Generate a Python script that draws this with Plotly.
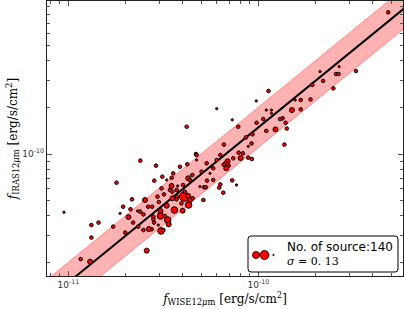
import numpy as np
import plotly.graph_objects as go

# WISE 12um flux (units of 1e-11 erg/s/cm2)
wise12 = [48.2, 32.6, 26.6, 25.6, 26.4, 21.9, 24.8, 19.2, 16.7, 18.8,
          11.3, 15.0, 16.7, 13.4, 11.7, 11.7, 9.74, 10.6, 9.78, 13.0,
          13.9, 14.1, 12.3, 11.0, 9.31, 8.59, 7.83, 7.28, 6.03, 4.19,
          13.7, 9.20, 8.84, 8.29, 7.87, 9.24, 8.06, 6.58, 6.30, 6.88,
          6.72, 6.97, 6.77, 6.56, 5.78, 7.28, 6.30, 6.22, 6.53, 4.69,
          4.73, 4.22, 5.36, 5.17, 5.29, 5.02, 4.49, 4.27, 4.01, 3.76,
          4.07, 4.27, 4.36, 4.29, 3.99, 3.72, 3.53, 3.71, 3.42, 3.49,
          3.52, 3.18, 3.09, 2.83, 3.12, 2.89, 2.39, 1.79, 3.05, 3.29,
          3.61, 3.33, 3.37, 3.05, 3.07, 3.16, 2.53, 2.76, 2.80, 2.74,
          2.65, 2.48, 2.33, 2.58, 2.82, 2.19, 2.07, 1.99, 2.16, 2.12,
          1.94, 1.72, 1.44, 1.32, 1.32, 1.16, 1.30, 0.947, 2.31, 3.49,
          2.63, 2.94, 2.99, 3.71, 4.51, 4.36, 2.38, 2.80, 3.86, 5.34,
          3.29, 3.93, 4.92, 5.78, 7.37, 8.84, 15.6, 6.03, 2.48, 1.87,
          4.73, 7.67, 3.56, 11.0, 21.1, 5.13, 5.56, 3.22, 2.97, 4.10]
# IRAS 12um flux (units of 1e-10 erg/s/cm2)
iras12 = [8.20, 3.43, 3.66, 3.28, 3.28, 2.96, 2.65, 2.79, 2.23, 2.25,
          2.55, 1.92, 1.94, 1.70, 1.92, 1.83, 2.20, 1.68, 1.59, 1.68,
          1.59, 1.46, 1.44, 1.41, 1.34, 1.28, 1.50, 1.66, 1.96, 1.50,
          1.15, 1.17, 0.947, 1.01, 1.02, 0.928, 0.942, 1.15, 0.985, 0.897,
          0.862, 0.841, 0.809, 0.853, 0.809, 0.676, 0.637, 0.607, 0.563, 1.00,
          0.985, 0.858, 0.673, 0.610, 0.610, 0.769, 0.732, 0.697, 0.631, 0.622,
          0.531, 0.536, 0.505, 0.469, 0.431, 0.531, 0.518, 0.586, 0.586, 0.622,
          0.571, 0.549, 0.600, 0.673, 0.714, 0.841, 0.906, 0.653, 0.429, 0.464,
          0.435, 0.375, 0.352, 0.398, 0.319, 0.323, 0.505, 0.457, 0.394, 0.327,
          0.328, 0.408, 0.340, 0.238, 0.361, 0.361, 0.392, 0.311, 0.510, 0.440,
          0.457, 0.340, 0.361, 0.348, 0.289, 0.210, 0.202, 0.421, 0.429, 0.703,
          0.457, 0.531, 0.490, 0.510, 0.518, 0.680, 0.425, 0.379, 0.828, 0.871,
          0.680, 0.480, 0.616, 0.680, 0.938, 1.12, 2.23, 0.915, 0.323, 0.414,
          0.915, 0.631, 0.750, 1.92, 3.40, 0.505, 0.750, 0.398, 0.348, 0.571]
# relative weight of each source (marker size class)
weight = [2, 2, 1, 2, 2, 2, 2, 2, 2, 2,
          2, 3, 2, 2, 1, 1, 1, 2, 2, 2,
          2, 2, 3, 2, 2, 2, 2, 1, 1, 2,
          2, 2, 2, 2, 2, 2, 3, 2, 2, 3,
          3, 2, 3, 2, 2, 2, 2, 2, 2, 2,
          2, 2, 2, 2, 2, 2, 2, 3, 2, 1,
          5, 3, 3, 4, 3, 2, 3, 2, 2, 3,
          2, 2, 2, 2, 2, 2, 2, 2, 3, 3,
          4, 4, 3, 4, 4, 2, 3, 2, 2, 2,
          3, 2, 2, 3, 2, 2, 3, 2, 2, 2,
          2, 2, 2, 2, 2, 2, 3, 1, 1, 2,
          2, 2, 2, 2, 2, 2, 2, 2, 2, 2,
          1, 2, 1, 2, 2, 1, 1, 2, 2, 1,
          1, 1, 2, 1, 1, 2, 1, 2, 1, 2]

fit_slope = 1.0
fit_intercept = 0.172   # dex
sigma = 0.13            # dex
n_source = len(wise12)

x_ticks = [1e-11, 1e-10]
x_ticklabels = ["10<sup>-11</sup>", "10<sup>-10</sup>"]
y_ticks = [1e-10]
y_ticklabels = ["10<sup>-10</sup>"]

x = np.array(wise12) * 1e-11
y = np.array(iras12) * 1e-10
size_map = {1: 2.3, 2: 3.6, 3: 5.0, 4: 6.6, 5: 9.5}
sizes = [size_map[w] for w in weight]

lx = np.linspace(-11.3, -9.0, 50)
ly = fit_slope * lx + fit_intercept

fig = go.Figure()
fig.add_trace(go.Scatter(x=10**lx, y=10**(ly + sigma), mode="lines",
                         line=dict(color="rgba(255,0,0,0.35)", width=1),
                         showlegend=False, hoverinfo="skip"))
fig.add_trace(go.Scatter(x=10**lx, y=10**(ly - sigma), mode="lines",
                         line=dict(color="rgba(255,0,0,0.35)", width=1),
                         fill="tonexty", fillcolor="rgba(255,0,0,0.3)",
                         showlegend=False, hoverinfo="skip"))
fig.add_trace(go.Scatter(x=10**lx, y=10**ly, mode="lines",
                         line=dict(color="black", width=2),
                         showlegend=False))
fig.add_trace(go.Scatter(x=x, y=y, mode="markers",
                         marker=dict(size=sizes, color="red", opacity=1,
                                     line=dict(color="black", width=1)),
                         showlegend=False))

# plot-area pixel geometry helpers for legend box
L, R, T, B = 47, 403, 1, 276
def px(v):
    return (v - L) / (R - L)
def py(v):
    return (B - v) / (B - T)

x0, x1, y0, y1, r = 248, 398, 236, 272, 3
path = (f"M {px(x0+r)},{py(y0)} L {px(x1-r)},{py(y0)} Q {px(x1)},{py(y0)} {px(x1)},{py(y0+r)} "
        f"L {px(x1)},{py(y1-r)} Q {px(x1)},{py(y1)} {px(x1-r)},{py(y1)} "
        f"L {px(x0+r)},{py(y1)} Q {px(x0)},{py(y1)} {px(x0)},{py(y1-r)} "
        f"L {px(x0)},{py(y0+r)} Q {px(x0)},{py(y0)} {px(x0+r)},{py(y0)} Z")
shapes = [dict(type="path", xref="paper", yref="paper", path=path,
               line=dict(color="black", width=1), fillcolor="white")]
for cx, d in [(256, 7), (264.5, 9), (273.5, 1.5)]:
    shapes.append(dict(type="circle", xref="paper", yref="paper",
                       xsizemode="pixel", ysizemode="pixel",
                       xanchor=px(cx), yanchor=py(255),
                       x0=-d/2, x1=d/2, y0=-d/2, y1=d/2,
                       fillcolor="red", line=dict(color="black", width=0.8)))

annotations = [
    dict(xref="paper", yref="paper", x=px(285), y=py(246.5), xanchor="left", yanchor="middle",
         text=f"No. of source:{n_source}", showarrow=False,
         font=dict(family="DejaVu Sans", size=12, color="black")),
    dict(xref="paper", yref="paper", x=px(285), y=py(261), xanchor="left", yanchor="middle",
         text=f"<i>σ</i> = {sigma:.2f}".replace("0.13", "0. 13"), showarrow=False,
         font=dict(family="DejaVu Serif", size=11, color="black")),
]

minor_x = [m * 10.0**e for e in (-12, -11, -10, -9) for m in range(2, 10)]
minor_y = [m * 10.0**e for e in (-11, -10, -9) for m in range(2, 10)]

axis_common = dict(type="log", showgrid=False, zeroline=False, showline=True,
                   linecolor="#222", linewidth=1.3, mirror="ticks", automargin=False,
                   ticks="inside", ticklen=5, tickwidth=1, tickcolor="#555",
                   tickfont=dict(family="DejaVu Sans", size=9, color="#333"))

fig.update_layout(
    width=404, height=309,
    margin=dict(l=L, r=404 - R, t=T, b=309 - B),
    plot_bgcolor="white", paper_bgcolor="white",
    shapes=shapes, annotations=annotations,
    xaxis=dict(**axis_common, range=[-11.113, -9.239],
               tickmode="array", tickvals=x_ticks, ticktext=x_ticklabels,
               minor=dict(tickvals=minor_x, ticks="inside", ticklen=3, tickcolor="#555"),
               title=dict(text="<i>f</i><sub>WISE12<i>μ</i>m</sub> [erg/s/cm<sup>2</sup>]",
                          font=dict(family="DejaVu Serif", size=12, color="black"), standoff=2)),
    yaxis=dict(**axis_common, range=[-10.787, -9.013],
               tickmode="array", tickvals=y_ticks, ticktext=y_ticklabels,
               minor=dict(tickvals=minor_y, ticks="inside", ticklen=3, tickcolor="#555"),
               title=dict(text="<i>f</i><sub>IRAS12<i>μ</i>m</sub> [erg/s/cm<sup>2</sup>]",
                          font=dict(family="DejaVu Serif", size=12, color="black"), standoff=2)),
)

fig.write_html("out.html", config={"displayModeBar": False},
               post_script="document.body.style.margin='0';")
